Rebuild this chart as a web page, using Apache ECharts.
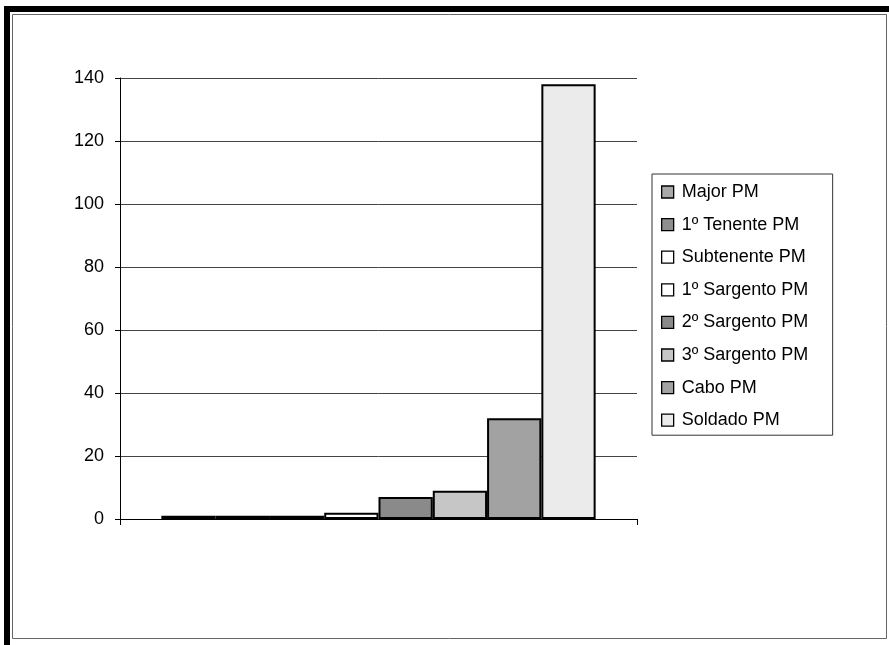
<!DOCTYPE html>
<html>
<head>
<meta charset="utf-8">
<script src="https://cdn.jsdelivr.net/npm/echarts@6/dist/echarts.min.js"></script>
<style>
  html, body { margin: 0; padding: 0; background: #fff; }
  #chart { width: 889px; height: 645px; }
</style>
</head>
<body>
<div id="chart"></div>
<script>
// Efetivo por posto/graduação
const ranks = ['Major PM', '1º Tenente PM', 'Subtenente PM', '1º Sargento PM',
               '2º Sargento PM', '3º Sargento PM', 'Cabo PM', 'Soldado PM'];
const counts = [1, 1, 1, 2, 7, 9, 32, 138];
const fills = ['#a9a9a9', '#8e8e8e', '#ffffff', '#ffffff',
               '#8a8a8a', '#c6c6c6', '#a2a2a2', '#ebebeb'];
const yTicks = { min: 0, max: 140, step: 20 };

const FONT = 'Liberation Sans, Arial, sans-serif';
const chart = echarts.init(document.getElementById('chart'), null, { renderer: 'canvas' });

const series = ranks.map((name, i) => ({
  name: name,
  type: 'bar',
  data: [counts[i]],
  barGap: '0%',
  barCategoryGap: '16%',
  itemStyle: { color: fills[i], borderColor: '#000', borderWidth: 2 },
  emphasis: { disabled: true }
}));

chart.setOption({
  animation: false,
  backgroundColor: '#fff',
  textStyle: { fontFamily: FONT },
  graphic: [
    // outer frame: heavy top and left edges, thin inner rule
    { type: 'rect', shape: { x: 4, y: 6, width: 885, height: 6 }, style: { fill: '#000' }, silent: true },
    { type: 'rect', shape: { x: 4, y: 6, width: 6, height: 639 }, style: { fill: '#000' }, silent: true },
    { type: 'rect', shape: { x: 12.5, y: 14.5, width: 874, height: 624 },
      style: { fill: null, stroke: '#666', lineWidth: 1 }, silent: true }
  ],
  grid: { left: 120, right: 252, top: 78, bottom: 126, containLabel: false,
          show: true, borderWidth: 0 },
  legend: {
    orient: 'vertical',
    left: 652,
    top: 174,
    data: ranks,
    icon: 'rect',
    itemWidth: 12,
    itemHeight: 12,
    itemGap: 14.6,
    padding: [9, 0, 6, 9],
    borderColor: '#333',
    borderWidth: 1,
    borderRadius: 0,
    selectedMode: false,
    itemStyle: { borderColor: '#000', borderWidth: 1.3 },
    textStyle: { fontSize: 18, lineHeight: 18, color: '#000', width: 151,
                 padding: [0, 0, 0, 3], fontFamily: FONT }
  },
  xAxis: {
    type: 'category',
    data: [''],
    axisLine: { lineStyle: { color: '#000', width: 1 } },
    axisTick: { show: true, length: 6, lineStyle: { color: '#000' } },
    axisLabel: { show: false },
    splitLine: { show: false }
  },
  yAxis: {
    type: 'value',
    min: yTicks.min,
    max: yTicks.max,
    interval: yTicks.step,
    axisLine: { show: true, lineStyle: { color: '#000', width: 1 } },
    axisTick: { show: true, length: 5, lineStyle: { color: '#000' } },
    axisLabel: { fontSize: 18, color: '#000', margin: 16, fontFamily: FONT },
    splitLine: { show: true, lineStyle: { color: '#444', width: 1 } }
  },
  series: series
});
</script>
</body>
</html>
